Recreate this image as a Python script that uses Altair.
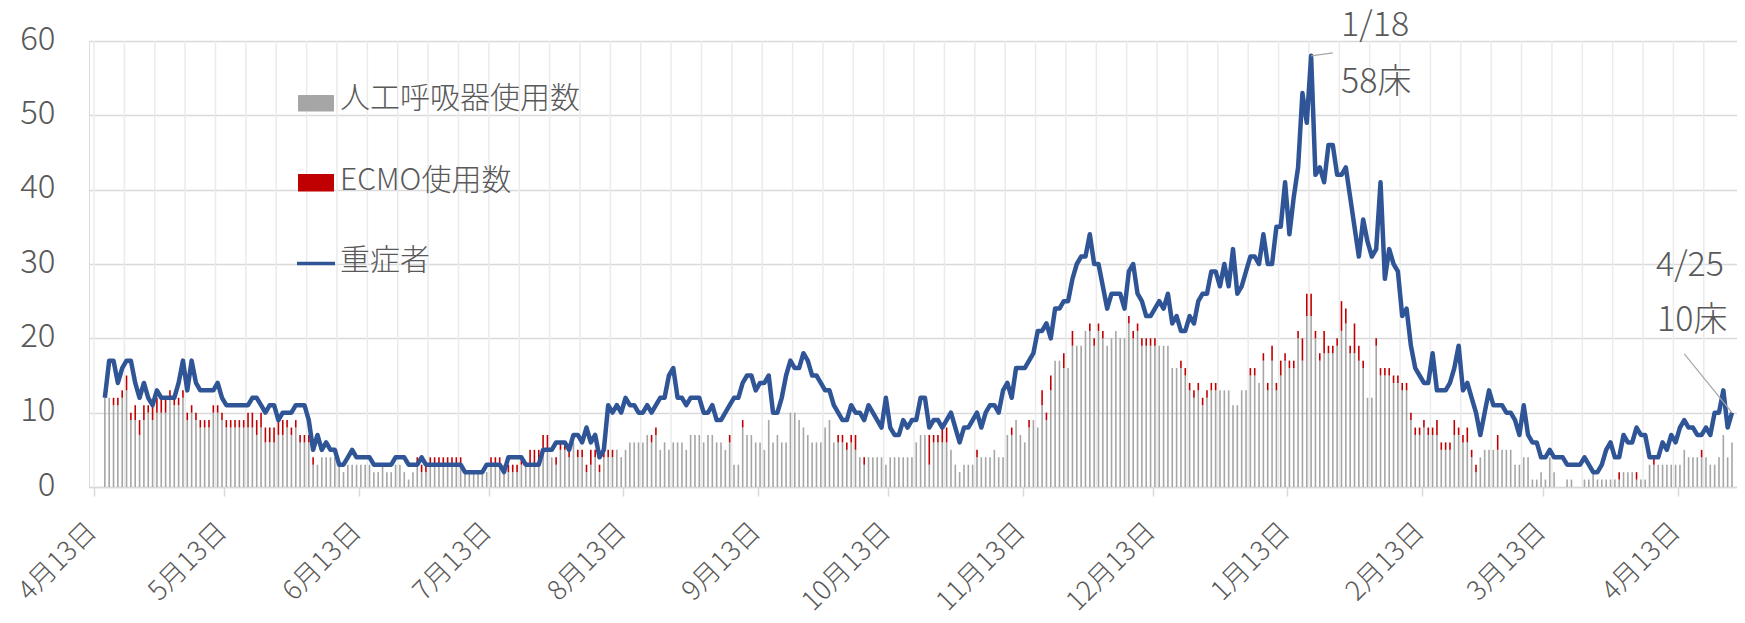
import altair as alt
import pandas as pd

# ---------------- data (daily, 2020-04-15 .. 2021-04-25) ----------------
start_date = "2020-04-15"

severe = [
    12, 17, 17, 14, 16, 17, 17, 14, 12, 14,
    12, 11, 13, 12, 12, 12, 12, 14, 17, 13,
    17, 14, 13, 13, 13, 13, 14, 12, 11, 11,
    11, 11, 11, 11, 12, 12, 11, 10, 11, 11,
    9, 10, 10, 10, 11, 11, 11, 9, 5, 7,
    5, 6, 5, 5, 3, 3, 4, 5, 4, 4,
    4, 4, 3, 3, 3, 3, 3, 4, 4, 4,
    3, 3, 3, 4, 3, 3, 3, 3, 3, 3,
    3, 3, 3, 2, 2, 2, 2, 2, 3, 3,
    3, 3, 2, 4, 4, 4, 4, 3, 3, 3,
    3, 5, 5, 5, 6, 6, 6, 5, 7, 7,
    6, 8, 6, 7, 4, 5, 11, 10, 11, 10,
    12, 11, 11, 10, 10, 11, 10, 11, 12, 12,
    15, 16, 12, 12, 11, 12, 12, 12, 10, 10,
    11, 9, 9, 10, 11, 12, 12, 14, 15, 15,
    13, 14, 14, 15, 10, 10, 12, 15, 17, 16,
    16, 18, 17, 15, 15, 14, 13, 13, 11, 10,
    9, 9, 11, 10, 10, 9, 11, 10, 9, 8,
    12, 8, 7, 7, 9, 8, 9, 9, 12, 12,
    8, 9, 9, 8, 9, 10, 8, 6, 8, 8,
    9, 10, 8, 10, 11, 11, 10, 13, 14, 12,
    16, 16, 16, 17, 18, 21, 21, 22, 20, 24,
    24, 25, 25, 28, 30, 31, 31, 34, 30, 30,
    27, 24, 26, 26, 26, 24, 29, 30, 26, 25,
    23, 23, 24, 25, 24, 26, 22, 23, 21, 21,
    23, 22, 25, 26, 26, 29, 29, 27, 30, 27,
    32, 26, 27, 29, 31, 31, 30, 34, 30, 30,
    35, 35, 41, 34, 39, 43, 53, 49, 58, 42,
    43, 41, 46, 46, 42, 42, 43, 39, 35, 31,
    36, 33, 31, 32, 41, 28, 32, 30, 29, 23,
    24, 19, 16, 15, 14, 14, 18, 13, 13, 13,
    14, 16, 19, 13, 14, 12, 10, 7, 10, 13,
    11, 11, 11, 10, 10, 9, 7, 11, 7, 6,
    6, 4, 4, 5, 4, 4, 4, 3, 3, 3,
    3, 4, 3, 2, 2, 3, 5, 6, 4, 4,
    7, 6, 6, 8, 7, 7, 4, 4, 4, 6,
    5, 7, 6, 8, 9, 8, 8, 7, 7, 8,
    7, 10, 10, 13, 8, 10,
]

vent = [
    12, 12, 11, 11, 12, 13, 9, 9, 7, 9,
    10, 9, 10, 10, 10, 12, 11, 11, 12, 9,
    10, 9, 8, 8, 8, 10, 10, 9, 8, 8,
    8, 8, 8, 8, 8, 7, 8, 6, 6, 6,
    7, 7, 8, 7, 8, 6, 6, 6, 3, 3,
    4, 4, 4, 4, 3, 2, 3, 3, 3, 3,
    3, 3, 2, 2, 3, 2, 2, 3, 3, 2,
    1, 2, 3, 2, 2, 3, 3, 3, 3, 3,
    3, 3, 3, 2, 2, 2, 2, 2, 2, 3,
    3, 3, 3, 2, 2, 2, 3, 3, 3, 3,
    3, 5, 5, 4, 3, 5, 5, 4, 6, 4,
    4, 2, 3, 4, 2, 4, 4, 4, 5, 4,
    5, 6, 6, 6, 6, 7, 6, 7, 5, 6,
    5, 6, 6, 6, 5, 7, 7, 7, 6, 7,
    7, 6, 6, 5, 6, 3, 3, 8, 7, 7,
    6, 6, 5, 9, 6, 7, 6, 6, 10, 10,
    9, 8, 7, 6, 6, 6, 8, 9, 6, 6,
    6, 5, 6, 5, 4, 3, 4, 4, 4, 4,
    3, 4, 4, 4, 4, 4, 4, 6, 7, 7,
    3, 6, 6, 6, 6, 5, 3, 2, 3, 3,
    3, 4, 4, 4, 4, 5, 4, 4, 7, 7,
    9, 7, 6, 8, 9, 8, 11, 9, 13, 17,
    17, 16, 16, 19, 19, 19, 21, 21, 19, 21,
    20, 19, 20, 21, 20, 20, 22, 20, 21, 19,
    19, 19, 19, 19, 19, 19, 16, 16, 16, 15,
    13, 12, 13, 11, 12, 13, 13, 13, 13, 13,
    11, 11, 13, 13, 15, 15, 14, 17, 13, 17,
    13, 15, 17, 16, 16, 20, 17, 23, 23, 20,
    17, 18, 18, 18, 19, 21, 22, 18, 18, 17,
    16, 12, 12, 19, 15, 15, 15, 14, 14, 13,
    13, 9, 7, 7, 8, 7, 7, 7, 5, 5,
    5, 7, 7, 6, 6, 4, 2, 4, 5, 5,
    5, 5, 5, 5, 5, 3, 3, 4, 4, 1,
    1, 2, 1, 4, 2, 0, 0, 1, 1, 0,
    0, 1, 1, 2, 1, 1, 1, 1, 1, 1,
    2, 2, 2, 1, 1, 1, 3, 3, 3, 3,
    3, 3, 3, 3, 5, 4, 4, 4, 4, 4,
    3, 3, 4, 7, 4, 6,
]

ecmo = [
    0, 0, 1, 1, 1, 2, 1, 2, 2, 2,
    1, 2, 2, 2, 2, 1, 1, 1, 1, 1,
    1, 1, 1, 1, 1, 1, 1, 1, 1, 1,
    1, 1, 1, 2, 2, 2, 2, 2, 2, 2,
    2, 2, 1, 1, 1, 1, 1, 1, 1, 0,
    0, 0, 0, 0, 0, 0, 0, 0, 0, 0,
    0, 0, 0, 0, 0, 0, 0, 0, 0, 0,
    0, 0, 1, 1, 1, 1, 1, 1, 1, 1,
    1, 1, 1, 0, 0, 0, 0, 0, 0, 1,
    1, 1, 0, 1, 1, 1, 1, 0, 2, 2,
    2, 2, 2, 0, 1, 1, 1, 1, 0, 1,
    1, 1, 2, 1, 1, 1, 1, 1, 0, 0,
    0, 0, 0, 0, 0, 0, 1, 1, 0, 0,
    0, 0, 0, 0, 0, 0, 0, 0, 0, 0,
    0, 0, 0, 0, 1, 0, 0, 1, 0, 0,
    0, 0, 0, 0, 0, 0, 0, 0, 0, 0,
    0, 0, 0, 0, 0, 0, 0, 0, 0, 1,
    1, 1, 1, 2, 0, 1, 0, 0, 0, 0,
    0, 0, 0, 0, 0, 0, 0, 0, 0, 0,
    4, 1, 1, 2, 2, 0, 0, 0, 0, 0,
    0, 1, 0, 0, 0, 0, 0, 0, 0, 1,
    0, 0, 0, 1, 0, 0, 2, 1, 2, 0,
    0, 2, 0, 2, 0, 0, 0, 1, 1, 1,
    1, 0, 0, 0, 0, 0, 1, 1, 1, 1,
    1, 1, 1, 0, 0, 0, 0, 0, 1, 1,
    1, 1, 1, 1, 1, 1, 1, 0, 0, 0,
    0, 0, 0, 0, 1, 1, 0, 1, 1, 2,
    1, 2, 1, 1, 1, 1, 3, 3, 3, 1,
    1, 3, 1, 1, 1, 4, 2, 1, 4, 2,
    1, 0, 0, 1, 1, 1, 1, 1, 1, 1,
    1, 1, 1, 1, 1, 1, 1, 2, 1, 1,
    1, 2, 1, 1, 2, 1, 1, 0, 0, 0,
    0, 2, 0, 0, 0, 0, 0, 0, 0, 0,
    0, 0, 0, 0, 0, 0, 0, 0, 0, 0,
    0, 0, 0, 0, 0, 0, 0, 0, 0, 1,
    0, 0, 0, 1, 0, 0, 0, 1, 0, 0,
    0, 0, 0, 0, 0, 0, 0, 0, 1, 0,
    0, 0, 0, 0, 0, 0,
]

legend_labels = ["人工呼吸器使用数", "ECMO使用数", "重症者"]
peak_label = ["1/18", "58床"]
last_label = ["4/25", "10床"]
y_ticks = [0, 10, 20, 30, 40, 50, 60]

# ---------------- styling ----------------
FONT = "Noto Sans CJK JP"
WEIGHT = 300
TXT = "#595959"
GRAY = "#A6A6A6"
RED = "#C00000"
BLUE = "#2F5597"
W, H = 1648, 446

dates = pd.date_range(start_date, periods=len(severe), freq="D")
df = pd.DataFrame({
    "date": dates.strftime("%Y-%m-%dT12:00:00"),
    "severe": severe,
    "vent": vent,
    "ecmo": ecmo,
})

grid_dates = pd.date_range("2020-04-13", "2021-04-25", freq="7D")
gdf = pd.DataFrame({"date": grid_dates.strftime("%Y-%m-%dT00:00:00")})

tick_values = []
for y, m in [(2020, mm) for mm in range(4, 13)] + [(2021, mm) for mm in range(1, 5)]:
    tick_values.append(alt.DateTime(year=y, month=m, date=13))

xscale = alt.Scale(domain=[alt.DateTime(year=2020, month=4, date=13),
                           alt.DateTime(year=2021, month=4, date=25, hours=12)])
yscale = alt.Scale(domain=[0, 60], nice=False)

xaxis = alt.Axis(values=tick_values,
                 labelExpr="(month(datum.value)+1) + '月' + date(datum.value) + '日'",
                 labelAngle=-45, labelAlign="right", labelBaseline="middle",
                 labelPadding=31, labelOffset=-2, labelFlush=False, labelOverlap=False,
                 tickSize=9, tickColor="#D9D9D9", tickWidth=1.5,
                 domainColor="#D9D9D9", domainWidth=1.5, grid=False, title=None,
                 labelFont=FONT, labelFontSize=27, labelFontWeight=WEIGHT, labelColor=TXT)
yaxis = alt.Axis(values=y_ticks, grid=True, gridColor="#D9D9D9", gridWidth=1.5,
                 domain=False, ticks=False, labelPadding=34, labelOffset=-2,
                 labelFont=FONT, labelFontSize=33, labelFontWeight=WEIGHT,
                 labelColor=TXT, title=None)

X = alt.X("date:T", scale=xscale, axis=xaxis)

vgrid = alt.Chart(gdf).mark_rule(color="#EBEBEB", strokeWidth=1.5).encode(
    x=X, y=alt.value(0), y2=alt.value(H))

gray_bars = alt.Chart(df).mark_bar(size=1.6, color=GRAY).encode(
    x=X, y=alt.Y("vent:Q", scale=yscale, axis=yaxis))

red_bars = alt.Chart(df).transform_filter("datum.ecmo > 0").transform_calculate(
    top="datum.vent + datum.ecmo").mark_bar(size=1.6, color=RED).encode(
    x=X, y=alt.Y("top:Q", scale=yscale, axis=yaxis), y2="vent:Q")

line = alt.Chart(df).mark_line(color=BLUE, strokeWidth=4.5, strokeJoin="round").encode(
    x=X, y=alt.Y("severe:Q", scale=yscale, axis=yaxis))

one = pd.DataFrame({"a": [0]})
leg_gray = alt.Chart(one).mark_rect(color=GRAY).encode(
    x=alt.value(209), x2=alt.value(245), y=alt.value(54), y2=alt.value(70.5))
leg_red = alt.Chart(one).mark_rect(color=RED).encode(
    x=alt.value(209), x2=alt.value(245), y=alt.value(133), y2=alt.value(150.5))
leg_line = alt.Chart(one).mark_rule(color=BLUE, strokeWidth=3.5).encode(
    x=alt.value(208), x2=alt.value(246), y=alt.value(222.4))
leg_texts = []
for lab, yy in zip(legend_labels, [58, 140, 220]):
    leg_texts.append(alt.Chart(one).mark_text(
        align="left", baseline="middle", font=FONT, fontSize=30, fontWeight=WEIGHT,
        color=TXT).encode(
        x=alt.value(251), y=alt.value(yy), text=alt.value(lab)))

ann_df = pd.DataFrame({
    "date": ["2021-01-18T12:00:00", "2021-04-25T12:00:00"],
    "v": [severe[dates.get_loc(pd.Timestamp("2021-01-18"))],
          severe[dates.get_loc(pd.Timestamp("2021-04-25"))]],
    "date2": ["2021-01-23T12:00:00", "2021-04-14T12:00:00"],
    "v2": [58.4, 17.9],
})
Yv = alt.Y("v:Q", scale=yscale, axis=yaxis)
leaders = alt.Chart(ann_df).mark_rule(color="#A6A6A6", strokeWidth=1.2).encode(
    x=X, x2="date2:T", y=Yv, y2="v2:Q")

peak = ann_df.iloc[[0]]
last = ann_df.iloc[[1]]
ann = []
for frame, lab, ddx, ddy in [(peak, peak_label[0], 30, -30), (peak, peak_label[1], 30, 27),
                             (last, last_label[0], -76, -147), (last, last_label[1], -75, -92)]:
    ann.append(alt.Chart(frame).mark_text(align="left", baseline="middle", dx=ddx, dy=ddy,
                                          font=FONT, fontSize=34, fontWeight=WEIGHT,
                                          color=TXT).encode(
        x=X, y=Yv, text=alt.value(lab)))

chart = alt.layer(
    vgrid, gray_bars, red_bars, line, leaders,
    leg_gray, leg_red, leg_line, *leg_texts, *ann
).properties(
    width=W, height=H,
    padding={"left": 81, "top": 33, "right": 0, "bottom": 128},
    autosize=alt.AutoSizeParams(type="none"),
).configure_view(strokeWidth=0).configure(background="white")

chart.save("out.html", embed_options={"renderer": "svg", "actions": False})
